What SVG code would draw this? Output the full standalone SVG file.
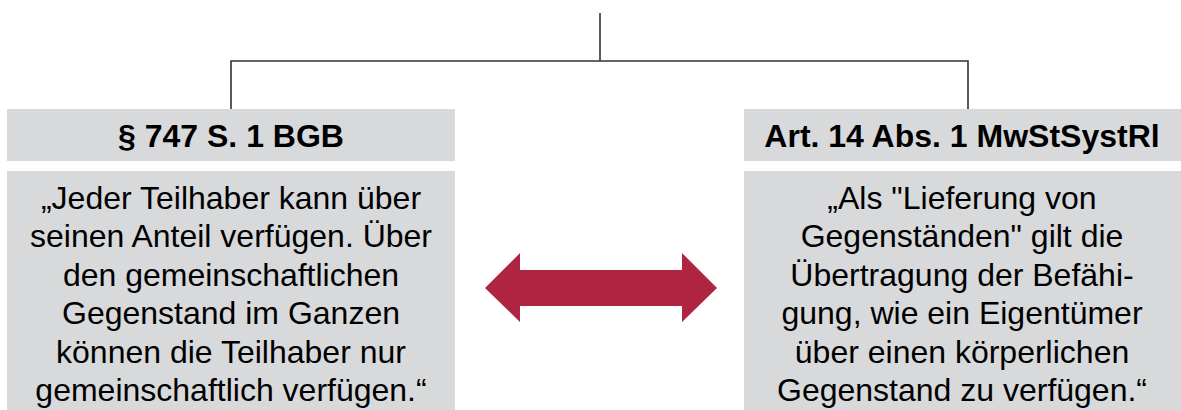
<svg xmlns="http://www.w3.org/2000/svg" width="1181" height="410" viewBox="0 0 1181 410">
<style>
.box{fill:#D8D9DB}
.hd{font-family:"Liberation Sans",Arial,sans-serif;font-weight:bold;font-size:32px;fill:#000;text-anchor:middle}
.bd{font-family:"Liberation Sans",Arial,sans-serif;font-size:32px;fill:#000;text-anchor:middle}
.ln{stroke:#333;stroke-width:1.6;fill:none}
</style>
<rect width="1181" height="410" fill="#fff"/>
<g id="connectors">
<path class="ln" d="M600 13 V61 M231 109 V61 H968 V109"/>
<path id="double-arrow" d="M485 288 L520 253 L520 270 L682 270 L682 253 L717 288 L682 322 L682 306 L520 306 L520 322 Z" fill="#AF2440"/>
</g>
<g id="left-header">
<rect class="box" x="7" y="109" width="448" height="52"/>
<text class="hd" x="231" y="147">§ 747 S. 1 BGB</text>
</g>
<g id="left-body">
<rect class="box" x="7" y="171" width="448" height="239"/>
<text class="bd" x="231" y="208.5">„Jeder Teilhaber kann über</text>
<text class="bd" x="231" y="247">seinen Anteil verfügen. Über</text>
<text class="bd" x="231" y="285.5">den gemeinschaftlichen</text>
<text class="bd" x="231" y="324">Gegenstand im Ganzen</text>
<text class="bd" x="231" y="362.5">können die Teilhaber nur</text>
<text class="bd" x="231" y="401">gemeinschaftlich verfügen.“</text>
</g>
<g id="right-header">
<rect class="box" x="744" y="109" width="437" height="52"/>
<text class="hd" x="962" y="147">Art. 14 Abs. 1 MwStSystRl</text>
</g>
<g id="right-body">
<rect class="box" x="744" y="171" width="437" height="239"/>
<text class="bd" x="962" y="208.5">„Als "Lieferung von</text>
<text class="bd" x="962" y="247">Gegenständen" gilt die</text>
<text class="bd" x="962" y="285.5">Übertragung der Befähi-</text>
<text class="bd" x="962" y="324">gung, wie ein Eigentümer</text>
<text class="bd" x="962" y="362.5">über einen körperlichen</text>
<text class="bd" x="962" y="401">Gegenstand zu verfügen.“</text>
</g>
</svg>
